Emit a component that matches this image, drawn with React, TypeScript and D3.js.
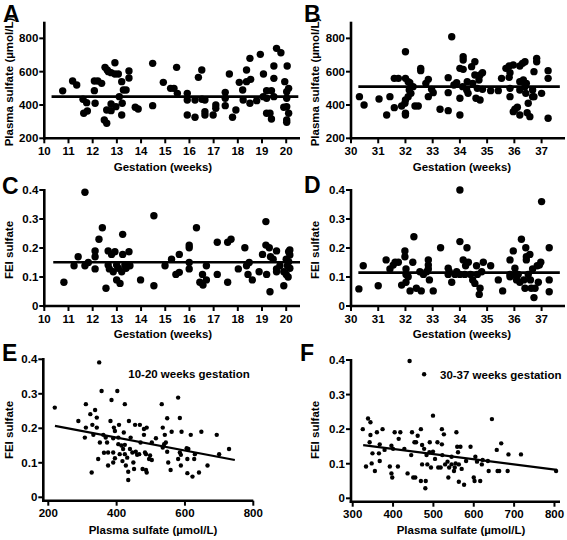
import React from "react";
import * as d3 from "d3";

// ---------- DATA ----------
// Panel A: gestation (weeks) vs plasma sulfate (µmol/L), 10-20 weeks
const earlyPlasma: [number, number][] = [
  [10.76,485],[11.17,544],[11.34,520],[11.6,434],[11.75,414],[11.63,350],[11.78,364],[12.07,544],[12.21,544],[12.37,530],
  [12.07,486],[12.1,410],[12.51,626],[12.6,610],[12.65,600],[12.76,594],[12.92,586],[13.06,586],[12.92,654],[12.58,370],
  [12.48,310],[12.58,290],[12.76,366],[12.76,406],[12.96,390],[13.1,450],[13.2,540],[13.27,490],[13.38,490],[13.22,410],
  [13.2,340],[13.5,604],[13.5,562],[13.76,386],[13.88,376],[14.48,650],[14.48,396],[14.92,536],[15.22,500],[15.36,500],
  [15.47,626],[15.5,470],[15.91,470],[15.91,430],[15.91,340],[16.23,430],[16.23,326],[16.37,566],[16.51,610],[16.52,434],
  [16.64,430],[16.64,340],[16.64,360],[16.98,340],[17.09,380],[17.09,400],[17.65,586],[17.48,476],[17.48,440],[17.48,396],
  [17.78,326],[17.92,370],[18.06,536],[18.2,490],[18.22,430],[18.36,610],[18.36,540],[18.5,680],[18.53,554],[18.5,410],
  [18.78,426],[18.93,704],[19.06,586],[19.05,450],[19.19,486],[19.19,350],[19.33,350],[19.19,440],[19.49,560],[19.49,634],
  [19.6,740],[19.78,714],[19.49,450],[19.39,486],[19.39,316],[19.94,540],[20.04,634],[20.02,480],[20.02,440],[20.02,390],
  [20.02,310],[20.02,296],[20.1,500],[19.9,386],[20.1,350],
];
// Panel B: 30-37 weeks
const latePlasma: [number, number][] = [
  [30.31,450],[30.48,400],[31.03,436],[31.31,340],[31.43,450],[31.59,384],[31.59,560],[31.74,560],[31.86,394],[31.98,410],
  [32.0,350],[32.0,340],[32.0,720],[32.0,560],[32.1,540],[32.1,450],[32.0,430],[32.14,490],[32.2,470],[32.16,534],
  [32.28,510],[32.35,394],[32.47,394],[32.56,620],[32.56,606],[32.75,530],[32.84,554],[32.84,450],[32.96,494],[33.02,474],
  [33.27,374],[33.57,564],[33.57,474],[33.57,366],[33.7,810],[33.78,520],[33.88,534],[34.0,340],[34.0,440],[34.0,620],
  [34.12,614],[34.12,690],[34.12,670],[34.1,510],[34.25,490],[34.27,540],[34.3,470],[34.43,630],[34.47,530],[34.55,580],
  [34.55,660],[34.59,440],[34.64,500],[34.7,550],[34.74,430],[34.74,580],[34.83,594],[34.83,494],[35.13,486],[35.41,486],
  [35.53,560],[35.69,620],[35.81,634],[35.84,594],[35.81,566],[35.84,450],[35.84,500],[35.96,640],[35.96,360],[36.02,374],
  [36.11,386],[36.2,634],[36.2,540],[36.2,490],[36.2,340],[36.3,650],[36.39,660],[36.33,550],[36.39,510],[36.42,470],
  [36.47,354],[36.51,410],[36.44,530],[36.57,330],[36.67,490],[36.67,450],[36.72,600],[36.72,450],[36.82,680],[36.82,660],
  [37.0,470],[37.24,606],[37.24,560],[37.24,320],
];
// Panel C: gestation vs FEI sulfate, 10-20 weeks
const earlyFei: [number, number][] = [
  [10.81,0.082],[11.23,0.139],[11.4,0.17],[11.68,0.392],[11.68,0.139],[11.82,0.15],[12.1,0.19],[12.1,0.17],[12.1,0.128],[12.26,0.23],
  [12.4,0.27],[12.55,0.061],[12.64,0.19],[12.64,0.141],[12.69,0.128],[12.78,0.178],[12.85,0.118],[12.92,0.187],[12.99,0.09],[12.99,0.141],
  [13.06,0.13],[13.13,0.078],[13.2,0.118],[13.24,0.247],[13.24,0.178],[13.38,0.13],[13.33,0.141],[13.5,0.187],[13.54,0.139],[13.98,0.09],
  [14.53,0.311],[14.53,0.07],[14.99,0.139],[15.26,0.161],[15.44,0.109],[15.58,0.116],[15.58,0.178],[15.99,0.21],[15.99,0.201],[15.99,0.15],
  [15.99,0.128],[16.29,0.27],[16.43,0.082],[16.54,0.109],[16.56,0.072],[16.7,0.09],[16.7,0.139],[17.15,0.22],[17.15,0.109],[17.58,0.082],
  [17.58,0.22],[17.72,0.23],[18.02,0.128],[18.29,0.201],[18.36,0.139],[18.47,0.15],[18.42,0.109],[18.6,0.09],[18.88,0.118],[19.02,0.178],
  [19.16,0.291],[19.16,0.21],[19.19,0.109],[19.3,0.201],[19.33,0.049],[19.35,0.17],[19.46,0.161],[19.6,0.19],[19.6,0.118],[19.6,0.128],
  [19.74,0.139],[19.9,0.07],[19.9,0.118],[20.0,0.109],[20.0,0.161],[20.1,0.187],[20.15,0.193],[20.15,0.176],[20.1,0.153],[20.05,0.139],
  [20.15,0.13],[20.08,0.1],
];
// Panel D: 30-37 weeks
const lateFei: [number, number][] = [
  [30.29,0.059],[30.45,0.139],[31.0,0.07],[31.29,0.159],[31.43,0.128],[31.55,0.141],[31.62,0.151],[31.74,0.151],[31.86,0.072],[31.98,0.19],
  [31.98,0.17],[32.02,0.128],[32.02,0.109],[32.02,0.082],[32.1,0.101],[32.17,0.052],[32.27,0.151],[32.31,0.239],[32.4,0.061],[32.53,0.118],
  [32.58,0.052],[32.66,0.109],[32.78,0.118],[32.84,0.159],[32.84,0.141],[32.84,0.128],[32.88,0.09],[33.02,0.052],[33.29,0.201],[33.57,0.13],
  [33.57,0.109],[33.61,0.118],[33.7,0.082],[33.82,0.109],[33.88,0.118],[34.0,0.4],[34.0,0.222],[34.0,0.109],[34.12,0.159],[34.18,0.109],
  [34.21,0.139],[34.26,0.201],[34.31,0.151],[34.39,0.109],[34.47,0.09],[34.55,0.078],[34.61,0.139],[34.64,0.109],[34.71,0.04],[34.74,0.061],
  [34.8,0.118],[34.86,0.151],[35.13,0.139],[35.41,0.09],[35.57,0.052],[35.84,0.159],[35.84,0.109],[35.84,0.101],[35.96,0.19],[36.02,0.13],
  [36.02,0.109],[36.08,0.09],[36.14,0.109],[36.2,0.082],[36.26,0.23],[36.35,0.09],[36.39,0.061],[36.42,0.201],[36.44,0.159],[36.44,0.17],
  [36.51,0.109],[36.57,0.178],[36.59,0.09],[36.62,0.061],[36.67,0.128],[36.72,0.029],[36.76,0.061],[36.84,0.139],[36.88,0.082],[36.92,0.141],
  [36.97,0.151],[37.0,0.36],[37.28,0.201],[37.28,0.09],[37.28,0.049],
];
// Panel E: plasma sulfate vs FEI sulfate, 10-20 weeks
const earlyCorr: [number, number][] = [
  [219,0.26],[288,0.221],[310,0.27],[310,0.202],[307,0.173],[323,0.241],[329,0.21],[337,0.253],[342,0.231],[342,0.202],
  [327,0.072],[332,0.181],[346,0.111],[349,0.391],[351,0.159],[356,0.308],[361,0.181],[363,0.129],[368,0.173],[372,0.159],
  [375,0.13],[375,0.092],[382,0.221],[385,0.282],[390,0.171],[390,0.13],[390,0.101],[392,0.202],[395,0.192],[395,0.113],
  [402,0.308],[405,0.154],[405,0.173],[407,0.21],[409,0.125],[414,0.15],[417,0.105],[419,0.14],[421,0.188],[424,0.27],
  [424,0.152],[424,0.125],[427,0.092],[431,0.115],[434,0.074],[436,0.221],[439,0.14],[434,0.05],[441,0.173],[446,0.13],
  [449,0.101],[451,0.082],[454,0.21],[456,0.132],[460,0.123],[468,0.21],[466,0.125],[470,0.159],[476,0.082],[480,0.198],
  [480,0.181],[483,0.13],[486,0.125],[486,0.079],[488,0.072],[488,0.202],[495,0.111],[498,0.121],[503,0.159],[503,0.108],
  [515,0.171],[532,0.27],[535,0.202],[535,0.144],[539,0.154],[541,0.181],[544,0.159],[548,0.132],[548,0.229],[551,0.101],
  [558,0.079],[561,0.19],[580,0.289],[580,0.111],[585,0.23],[585,0.13],[588,0.123],[588,0.092],[590,0.19],[605,0.142],
  [607,0.111],[607,0.07],[610,0.14],[617,0.181],[622,0.06],[627,0.111],[629,0.125],[641,0.072],[648,0.19],[666,0.092],
  [693,0.181],[700,0.125],[729,0.14],
];
// Panel F: 30-37 weeks
const lateCorr: [number, number][] = [
  [325,0.2],[333,0.092],[338,0.231],[344,0.22],[342,0.162],[344,0.183],[349,0.13],[347,0.101],[355,0.079],[360,0.191],
  [365,0.13],[367,0.108],[367,0.156],[374,0.2],[379,0.14],[392,0.092],[396,0.152],[396,0.072],[398,0.06],[400,0.143],
  [404,0.191],[412,0.092],[414,0.172],[418,0.191],[428,0.143],[436,0.072],[441,0.397],[445,0.125],[447,0.191],[453,0.162],
  [450,0.06],[455,0.06],[457,0.162],[461,0.181],[469,0.2],[472,0.154],[472,0.098],[469,0.05],[477,0.359],[477,0.143],
  [481,0.05],[480,0.029],[483,0.125],[485,0.098],[490,0.133],[491,0.162],[494,0.089],[499,0.135],[499,0.239],[504,0.114],
  [510,0.162],[512,0.089],[518,0.089],[521,0.2],[521,0.156],[522,0.125],[526,0.185],[529,0.098],[535,0.106],[537,0.06],
  [539,0.089],[545,0.12],[545,0.098],[551,0.079],[553,0.089],[555,0.101],[557,0.191],[559,0.149],[561,0.133],[563,0.098],
  [563,0.048],[567,0.149],[570,0.085],[576,0.039],[581,0.108],[592,0.149],[600,0.06],[602,0.05],[604,0.12],[608,0.106],
  [616,0.05],[620,0.098],[622,0.111],[635,0.108],[637,0.079],[645,0.229],[657,0.14],[659,0.079],[668,0.159],[663,0.079],
  [684,0.079],[686,0.127],[717,0.127],[804,0.079],
];

// fitted lines: [x0, y0, x1, y1]
const fitA: [number, number, number, number] = [10.3, 450, 20.5, 450];
const fitB: [number, number, number, number] = [30.27, 510, 37.67, 510];
const fitC: [number, number, number, number] = [10.37, 0.151, 20.57, 0.151];
const fitD: [number, number, number, number] = [30.27, 0.115, 37.67, 0.115];
const fitE: [number, number, number, number] = [219.5, 0.207, 746, 0.108];
const fitF: [number, number, number, number] = [326, 0.154, 806, 0.082];

const earlyWeekTicks = [10, 11, 12, 13, 14, 15, 16, 17, 18, 19, 20];
const lateWeekTicks = [30, 31, 32, 33, 34, 35, 36, 37];
const plasmaTicks = [200, 400, 600, 800];
const feiTicks = [0, 0.1, 0.2, 0.3, 0.4];
const corrTicksE = [200, 400, 600, 800];
const corrTicksF = [300, 400, 500, 600, 700, 800];

const FONT = "'Liberation Sans', Arial, Helvetica, sans-serif";

type PanelProps = {
  letter: string;
  letterPos: [number, number];
  data: [number, number][];
  fit: [number, number, number, number];
  xDomain: [number, number];
  xRange: [number, number];
  yDomain: [number, number];
  yRange: [number, number];
  xTicks: number[];
  yTicks: number[];
  xAxisY: number;
  yAxisTop: number;
  xLabel: string;
  xLabelPos: [number, number];
  yLabel: string;
  yLabelPos: [number, number];
  r: number;
  fitWidth: number;
  note?: { text: string; x: number; y: number; anchor: string };
};

function fmtTick(v: number) {
  if (v === 0) return "0";
  if (Math.abs(v) < 1) return v.toFixed(1);
  return String(v);
}

function Panel(p: PanelProps) {
  const x = d3.scaleLinear().domain(p.xDomain).range(p.xRange);
  const y = d3.scaleLinear().domain(p.yDomain).range(p.yRange);
  const x0 = p.xRange[0];
  const line = d3.line<[number, number]>().x((d) => x(d[0])).y((d) => y(d[1]));
  const fitPts: [number, number][] = [
    [p.fit[0], p.fit[1]],
    [p.fit[2], p.fit[3]],
  ];
  const axisW = 2.6;
  return (
    <g>
      <text x={p.letterPos[0]} y={p.letterPos[1]} fontSize={23} fontWeight="bold" fontFamily={FONT}>
        {p.letter}
      </text>
      {/* y axis */}
      <line x1={x0} x2={x0} y1={p.yAxisTop} y2={p.xAxisY + axisW / 2} stroke="#000" strokeWidth={axisW} />
      {p.yTicks.map((t) => (
        <g key={"y" + t}>
          <line x1={x0 - 5} x2={x0} y1={y(t)} y2={y(t)} stroke="#000" strokeWidth={2} />
          <text x={x0 - 6} y={y(t) + 4} textAnchor="end" fontSize={11.5} fontWeight="bold" fontFamily={FONT}>
            {fmtTick(t)}
          </text>
        </g>
      ))}
      {/* x axis */}
      <line x1={x0 - axisW / 2} x2={p.xRange[1]} y1={p.xAxisY} y2={p.xAxisY} stroke="#000" strokeWidth={axisW} />
      {p.xTicks.map((t) => (
        <g key={"x" + t}>
          <line x1={x(t)} x2={x(t)} y1={p.xAxisY} y2={p.xAxisY + 5} stroke="#000" strokeWidth={2} />
          <text x={x(t)} y={p.xAxisY + 16.5} textAnchor="middle" fontSize={11.5} fontWeight="bold" fontFamily={FONT}>
            {fmtTick(t)}
          </text>
        </g>
      ))}
      <text x={p.xLabelPos[0]} y={p.xLabelPos[1]} textAnchor="middle" fontSize={11.5} fontWeight="bold" fontFamily={FONT}>
        {p.xLabel}
      </text>
      <text
        transform={`translate(${p.yLabelPos[0]},${p.yLabelPos[1]}) rotate(-90)`}
        textAnchor="middle"
        fontSize={11.5}
        fontWeight="bold"
        fontFamily={FONT}
      >
        {p.yLabel}
      </text>
      {p.data.map((d, i) => (
        <circle key={i} cx={x(d[0])} cy={y(d[1])} r={p.r} fill="#000" />
      ))}
      <path d={line(fitPts) || ""} stroke="#000" strokeWidth={p.fitWidth} fill="none" />
      {p.note && (
        <text x={p.note.x} y={p.note.y} textAnchor={p.note.anchor as any} fontSize={11.5} fontWeight="bold" fontFamily={FONT}>
          {p.note.text}
        </text>
      )}
    </g>
  );
}

export default function App() {
  const plasmaLabel = "Plasma sulfate (\u00b5mol/L)";
  return (
    <svg width={567} height={540} style={{ position: "absolute", left: 0, top: 0, background: "#fff" }}>
      <rect width={567} height={540} fill="#fff" />
      <Panel
        letter="A" letterPos={[3, 22]} data={earlyPlasma} fit={fitA}
        xDomain={[10, 20.57]} xRange={[44.3, 300]} yDomain={[200, 900]} yRange={[138.3, 21.7]}
        xTicks={earlyWeekTicks} yTicks={plasmaTicks} xAxisY={138.3} yAxisTop={21.7}
        xLabel="Gestation (weeks)" xLabelPos={[163, 170.5]} yLabel={plasmaLabel} yLabelPos={[12.5, 82]}
        r={3.7} fitWidth={2.6}
      />
      <Panel
        letter="B" letterPos={[304, 22]} data={latePlasma} fit={fitB}
        xDomain={[30, 37.86]} xRange={[351, 565]} yDomain={[200, 900]} yRange={[138.3, 21.7]}
        xTicks={lateWeekTicks} yTicks={plasmaTicks} xAxisY={138.3} yAxisTop={21.7}
        xLabel="Gestation (weeks)" xLabelPos={[462, 170.5]} yLabel={plasmaLabel} yLabelPos={[318.5, 82]}
        r={3.7} fitWidth={2.6}
      />
      <Panel
        letter="C" letterPos={[2, 194]} data={earlyFei} fit={fitC}
        xDomain={[10, 20.57]} xRange={[44.3, 300]} yDomain={[0, 0.4]} yRange={[306, 190]}
        xTicks={earlyWeekTicks} yTicks={feiTicks} xAxisY={306} yAxisTop={189}
        xLabel="Gestation (weeks)" xLabelPos={[163, 338]} yLabel="FEI sulfate" yLabelPos={[12.5, 250]}
        r={3.7} fitWidth={2.6}
      />
      <Panel
        letter="D" letterPos={[304, 193]} data={lateFei} fit={fitD}
        xDomain={[30, 37.86]} xRange={[351, 565]} yDomain={[0, 0.4]} yRange={[306, 190]}
        xTicks={lateWeekTicks} yTicks={feiTicks} xAxisY={306} yAxisTop={189}
        xLabel="Gestation (weeks)" xLabelPos={[462, 338]} yLabel="FEI sulfate" yLabelPos={[318.5, 250]}
        r={3.7} fitWidth={2.6}
      />
      <Panel
        letter="E" letterPos={[2, 361]} data={earlyCorr} fit={fitE}
        xDomain={[185.4, 800]} xRange={[43.3, 253.3]} yDomain={[0, 0.4]} yRange={[497.3, 359.3]}
        xTicks={corrTicksE} yTicks={feiTicks} xAxisY={500.7} yAxisTop={358}
        xLabel={plasmaLabel} xLabelPos={[153, 534]} yLabel="FEI sulfate" yLabelPos={[12.5, 430]}
        r={2.2} fitWidth={2.2}
        note={{ text: "10-20 weeks gestation", x: 189, y: 378, anchor: "middle" }}
      />
      <Panel
        letter="F" letterPos={[300, 361]} data={lateCorr} fit={fitF}
        xDomain={[295.8, 813.7]} xRange={[351, 560]} yDomain={[0, 0.4]} yRange={[498.3, 360]}
        xTicks={corrTicksF} yTicks={feiTicks} xAxisY={501.7} yAxisTop={359}
        xLabel={plasmaLabel} xLabelPos={[461, 534]} yLabel="FEI sulfate" yLabelPos={[318.5, 430]}
        r={2.2} fitWidth={2.2}
        note={{ text: "30-37 weeks gestation", x: 440, y: 379, anchor: "start" }}
      />
    </svg>
  );
}
